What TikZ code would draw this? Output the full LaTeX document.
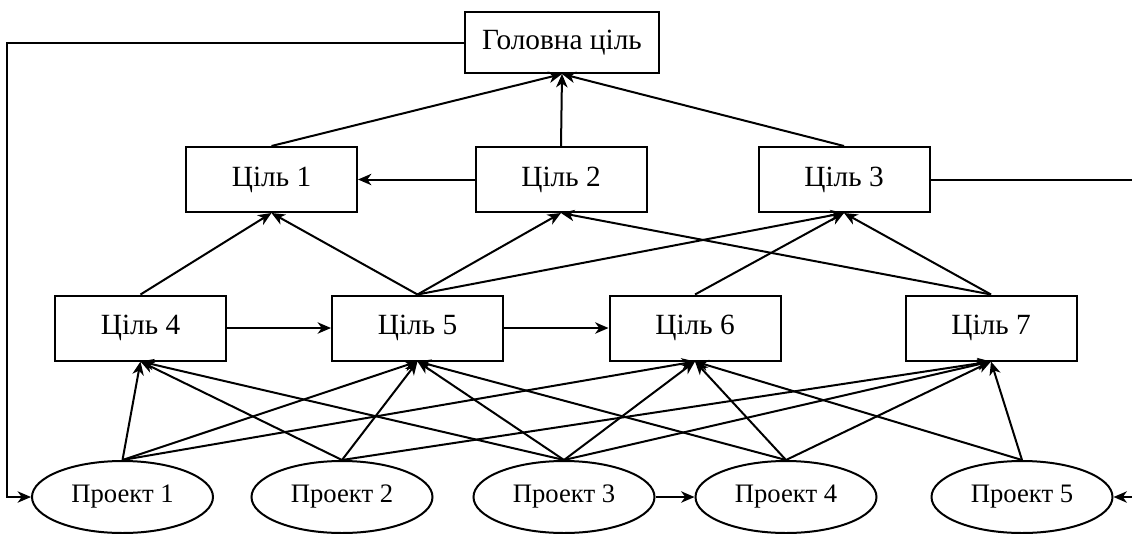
\documentclass[tikz,border=0pt]{standalone}
\usepackage{fontspec}
\setmainfont{Liberation Serif}
\usetikzlibrary{shapes.geometric,arrows.meta}
\begin{document}
\begin{tikzpicture}[x=0.75pt,y=-0.75pt,
  line width=1.5pt,
  tip/.style={-{Stealth[length=10pt,width=8.5pt,inset=3pt]}},
  goalbox/.style={draw,rectangle,minimum width=128.25pt,minimum height=48.75pt,inner sep=0pt,font=\fontsize{22}{26}\selectfont},
  mainbox/.style={draw,rectangle,minimum width=145.5pt,minimum height=45.75pt,inner sep=0pt,font=\fontsize{22}{26}\selectfont},
  projell/.style={draw,ellipse,minimum width=135.75pt,minimum height=54pt,inner sep=0pt,font=\fontsize{20}{24}\selectfont}]
\useasboundingbox (0,0) rectangle (1132,533);
\node[mainbox] (G) at (562,42.5) {Головна ціль};
\node[goalbox] (C1) at (271.5,179.5) {Ціль 1};
\node[goalbox] (C2) at (561,179.5) {Ціль 2};
\node[goalbox] (C3) at (844,179.5) {Ціль 3};
\node[goalbox] (C4) at (140.5,328) {Ціль 4};
\node[goalbox] (C5) at (417.5,328) {Ціль 5};
\node[goalbox] (C6) at (695,328) {Ціль 6};
\node[goalbox] (C7) at (991,328) {Ціль 7};
\node[projell] (P1) at (122.5,497) {Проект 1};
\node[projell] (P2) at (342,497) {Проект 2};
\node[projell] (P3) at (564,497) {Проект 3};
\node[projell] (P4) at (786,497) {Проект 4};
\node[projell] (P5) at (1022,497) {Проект 5};
\coordinate (LT) at (7,42.5);
\coordinate (LB) at (7,497);
\coordinate (RT) at (1140,179.5);
\coordinate (RB) at (1140,497);
% top level
\draw[tip] (C1.north) -- (G.south);
\draw[tip] (C2.north) -- (G.south);
\draw[tip] (C3.north) -- (G.south);
\draw[tip] (C2.west) -- (C1.east);
% middle level
\draw[tip] (C4.north) -- (C1.south);
\draw[tip] (C5.north) -- (C1.south);
\draw[tip] (C5.north) -- (C2.south);
\draw[tip] (C5.north) -- (C3.south);
\draw[tip] (C6.north) -- (C3.south);
\draw[tip] (C7.north) -- (C3.south);
\draw[tip] (C7.north) -- (C2.south);
\draw[tip] (C4.east) -- (C5.west);
\draw[tip] (C5.east) -- (C6.west);
% projects
\draw[tip] (P1.north) -- (C4.south);
\draw[tip] (P1.north) -- (C5.south);
\draw[tip] (P1.north) -- (C6.south);
\draw[tip] (P2.north) -- (C4.south);
\draw[tip] (P2.north) -- (C5.south);
\draw[tip] (P2.north) -- (C7.south);
\draw[tip] (P3.north) -- (C4.south);
\draw[tip] (P3.north) -- (C5.south);
\draw[tip] (P3.north) -- (C6.south);
\draw[tip] (P3.north) -- (C7.south);
\draw[tip] (P4.north) -- (C5.south);
\draw[tip] (P4.north) -- (C6.south);
\draw[tip] (P4.north) -- (C7.south);
\draw[tip] (P5.north) -- (C6.south);
\draw[tip] (P5.north) -- (C7.south);
\draw[tip] (P3.east) -- (P4.west);
% feedback lines
\draw[tip] (G.west) -- (LT) -- (LB) -- (P1.west);
\draw[tip] (C3.east) -- (RT) -- (RB) -- (P5.east);
\end{tikzpicture}
\end{document}
